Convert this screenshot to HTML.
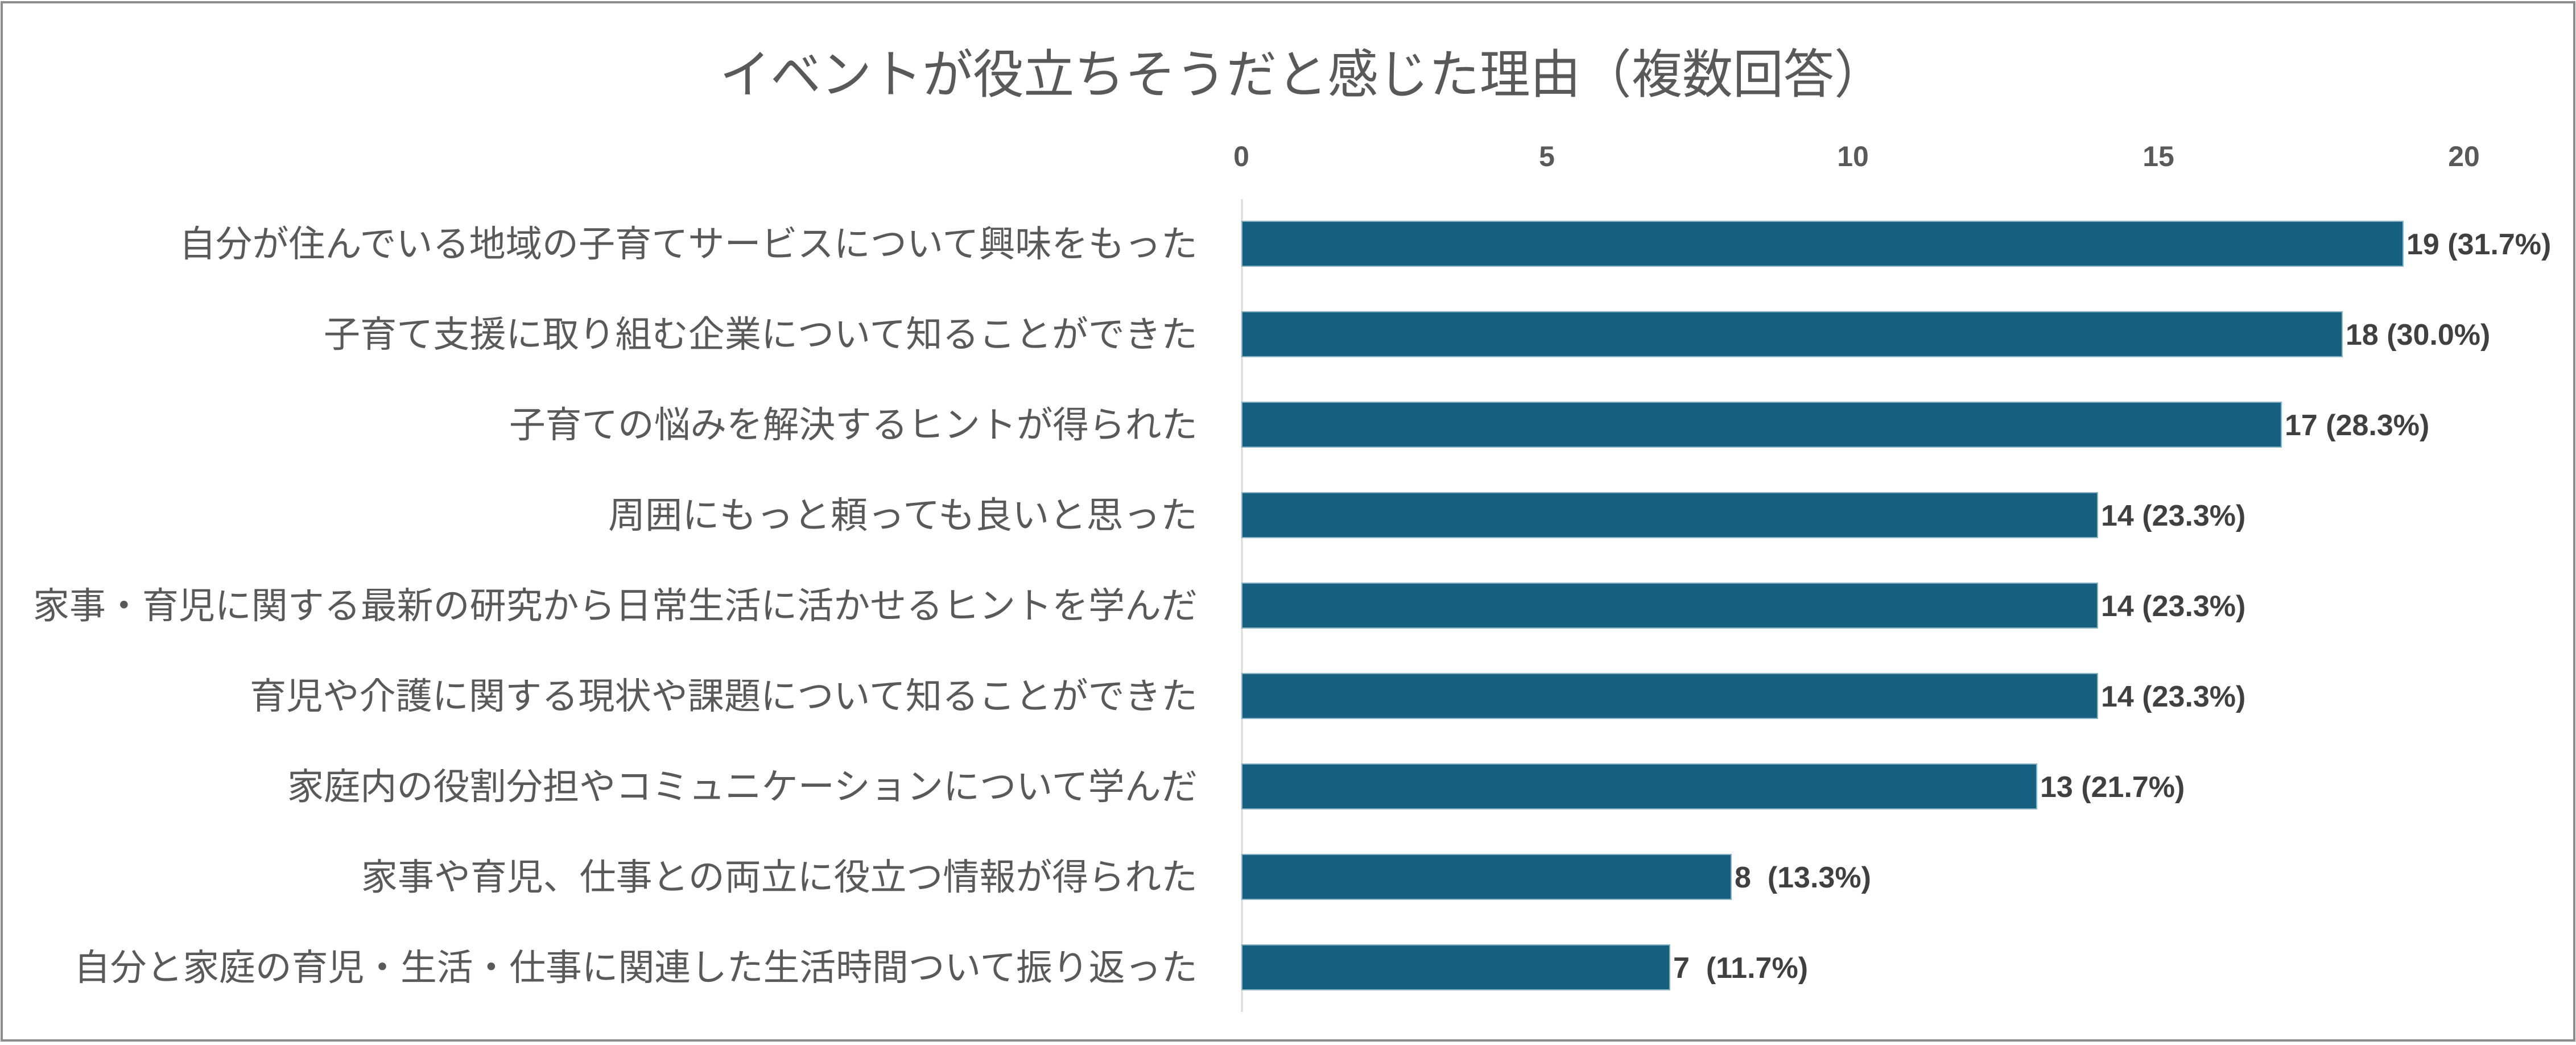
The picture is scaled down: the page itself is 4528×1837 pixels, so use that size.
<!DOCTYPE html>
<html><head><meta charset="utf-8"><style>
html,body{margin:0;padding:0;background:#fff;}
svg{display:block;}
text{font-family:"Liberation Sans","Noto Sans CJK JP",sans-serif;}
</style></head><body>
<svg width="4528" height="1837" viewBox="0 0 4528 1837" xmlns="http://www.w3.org/2000/svg">
<rect x="0" y="0" width="4528" height="1837" fill="#fff"/>
<rect x="3" y="4" width="4522" height="1825" fill="none" stroke="#8c8c8c" stroke-width="4"/>
<text x="1265" y="163" font-size="92" fill="#595959" textLength="2048" lengthAdjust="spacingAndGlyphs">イベントが役立ちそうだと感じた理由（複数回答）</text>
<g font-size="50" font-weight="bold" fill="#595959" text-anchor="middle">
<text x="2182" y="292">0</text>
<text x="2719" y="292">5</text>
<text x="3257" y="292">10</text>
<text x="3794" y="292">15</text>
<text x="4331" y="292">20</text>
</g>
<line x1="2183" y1="350" x2="2183" y2="1779" stroke="#d9d9d9" stroke-width="3"/>
<g fill="#17607f" stroke="#8db3c7" stroke-width="2">
<rect x="2183" y="389" width="2041" height="79"/>
<rect x="2183" y="548" width="1934" height="79"/>
<rect x="2183" y="707" width="1827" height="79"/>
<rect x="2183" y="866" width="1504" height="79"/>
<rect x="2183" y="1025" width="1504" height="79"/>
<rect x="2183" y="1184" width="1504" height="79"/>
<rect x="2183" y="1343" width="1397" height="79"/>
<rect x="2183" y="1502" width="860" height="79"/>
<rect x="2183" y="1661" width="752" height="79"/>
</g>
<g font-size="52" font-weight="bold" fill="#404040">
<text x="4230" y="447">19 (31.7%)</text>
<text x="4123" y="606">18 (30.0%)</text>
<text x="4016" y="765">17 (28.3%)</text>
<text x="3693" y="924">14 (23.3%)</text>
<text x="3693" y="1083">14 (23.3%)</text>
<text x="3693" y="1242">14 (23.3%)</text>
<text x="3586" y="1401">13 (21.7%)</text>
<text x="3049" y="1560" xml:space="preserve">8  (13.3%)</text>
<text x="2941" y="1719" xml:space="preserve">7  (11.7%)</text>
</g>
<g font-size="64" fill="#595959" lengthAdjust="spacingAndGlyphs">
<text x="315" y="451" textLength="1790" lengthAdjust="spacingAndGlyphs">自分が住んでいる地域の子育てサービスについて興味をもった</text>
<text x="569" y="610" textLength="1536" lengthAdjust="spacingAndGlyphs">子育て支援に取り組む企業について知ることができた</text>
<text x="895" y="769" textLength="1210" lengthAdjust="spacingAndGlyphs">子育ての悩みを解決するヒントが得られた</text>
<text x="1069" y="928" textLength="1036" lengthAdjust="spacingAndGlyphs">周囲にもっと頼っても良いと思った</text>
<text x="58" y="1087" textLength="2047" lengthAdjust="spacingAndGlyphs">家事・育児に関する最新の研究から日常生活に活かせるヒントを学んだ</text>
<text x="439" y="1246" textLength="1666" lengthAdjust="spacingAndGlyphs">育児や介護に関する現状や課題について知ることができた</text>
<text x="505" y="1405" textLength="1600" lengthAdjust="spacingAndGlyphs">家庭内の役割分担やコミュニケーションについて学んだ</text>
<text x="635" y="1564" textLength="1470" lengthAdjust="spacingAndGlyphs">家事や育児、仕事との両立に役立つ情報が得られた</text>
<text x="130" y="1723" textLength="1975" lengthAdjust="spacingAndGlyphs">自分と家庭の育児・生活・仕事に関連した生活時間ついて振り返った</text>
</g>
</svg>
</body></html>
